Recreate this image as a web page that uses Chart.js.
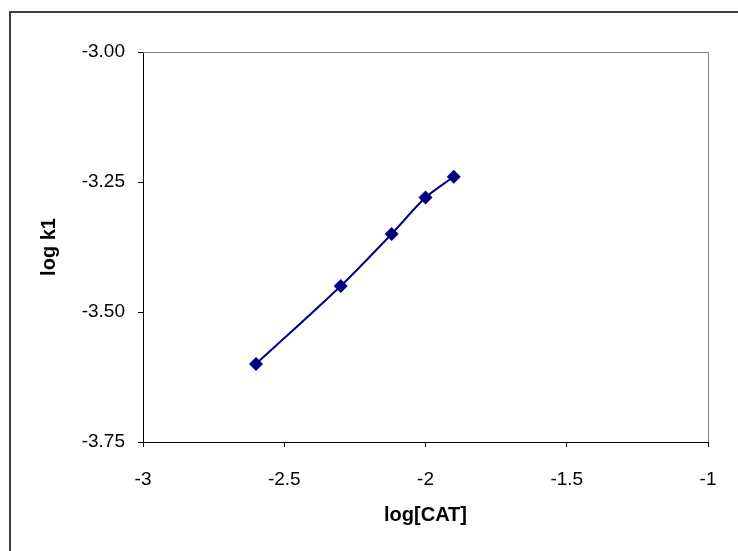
<!DOCTYPE html>
<html lang="en">
<head>
  <meta charset="UTF-8">
  <title>log k1 vs log[CAT]</title>
  <script src="https://cdn.jsdelivr.net/npm/chart.js"></script>
  <style>
    html, body { margin:0; padding:0; background:#fff; overflow:hidden; }
    canvas { display:block; }
  </style>
</head>
<body>
<canvas id="chart" width="738" height="551"></canvas>
<script>
// data
const logCat = [-2.6, -2.3, -2.12, -2.0, -1.9];
const logK1  = [-3.60, -3.45, -3.35, -3.28, -3.24];

// axis ticks
const xTicks = [-3, -2.5, -2, -1.5, -1];
const yTicks = [-3.75, -3.50, -3.25, -3.00];

const points = logCat.map((x, i) => ({ x: x, y: logK1[i] }));
const FONT = "'Liberation Sans', Arial, sans-serif";

// outer frame + grey top/right of plot area
const frame = {
  id: 'frame',
  beforeDraw(chart) {
    const c = chart.ctx;
    c.save();
    c.strokeStyle = '#3c3c3c';
    c.lineWidth = 2;
    c.beginPath();
    c.moveTo(10, 551); c.lineTo(10, 12); c.lineTo(738, 12);
    c.stroke();
    c.restore();
  },
  afterDatasetsDraw(chart) {
    const a = chart.chartArea, c = chart.ctx;
    c.save();
    c.strokeStyle = '#808080';
    c.lineWidth = 1;
    c.beginPath();
    c.moveTo(a.left, a.top + 0.5); c.lineTo(a.right + 0.5, a.top + 0.5); c.lineTo(a.right + 0.5, a.bottom);
    c.stroke();
    c.restore();
  }
};

new Chart(document.getElementById('chart'), {
  type: 'scatter',
  data: {
    datasets: [{
      data: points,
      showLine: true,
      borderColor: '#000080',
      borderWidth: 2,
      tension: 0.3,
      pointStyle: 'rectRot',
      pointRadius: 7,
      pointBackgroundColor: '#000080',
      pointBorderColor: '#000080',
      pointBorderWidth: 0
    }]
  },
  options: {
    responsive: false,
    animation: false,
    events: [],
    layout: { padding: { left: 0, top: 52, right: 30, bottom: 0 } },
    plugins: { legend: { display: false }, tooltip: { enabled: false } },
    scales: {
      x: {
        type: 'linear', min: -3, max: -1,
        afterBuildTicks: s => { s.ticks = xTicks.map(v => ({ value: v })); },
        afterFit: s => { s.height = 109; },
        border: { color: '#000', width: 1 },
        grid: { drawOnChartArea: false, color: '#000', tickLength: 5 },
        ticks: { color: '#000', padding: 21, maxRotation: 0, font: { family: FONT, size: 19 },
                 callback: v => String(v) },
        title: { display: true, text: 'log[CAT]', color: '#000', padding: { top: 0, bottom: 24 },
                 font: { family: FONT, size: 20, weight: 'bold' } }
      },
      y: {
        type: 'linear', min: -3.75, max: -3,
        afterBuildTicks: s => { s.ticks = yTicks.map(v => ({ value: v })); },
        afterFit: s => { s.width = 143; },
        border: { color: '#000', width: 1 },
        grid: { drawOnChartArea: false, color: '#000', tickLength: 5 },
        ticks: { color: '#000', padding: 13, font: { family: FONT, size: 19 },
                 callback: v => Number(v).toFixed(2) },
        title: { display: true, text: 'log k1', color: '#000', padding: { top: 37, bottom: 0 },
                 font: { family: FONT, size: 20, weight: 'bold' } }
      }
    }
  },
  plugins: [frame]
});
</script>
</body>
</html>
